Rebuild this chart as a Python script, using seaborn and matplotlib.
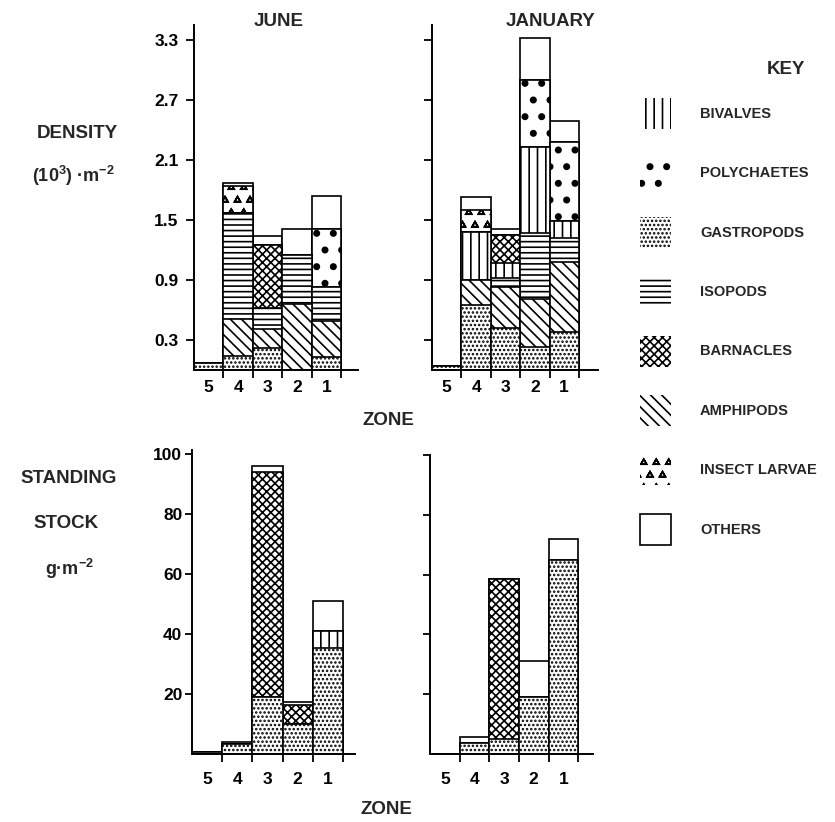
import warnings
import pandas as pd
import matplotlib
matplotlib.use('Agg')
import matplotlib.pyplot as plt
from matplotlib import hatch as mhatch
from matplotlib.path import Path
from matplotlib.patches import Patch
import seaborn as sns

warnings.filterwarnings('ignore')

# =============================================================================
# Data, zones ordered 5..1 as on the x axis
# =============================================================================
zones = ['5', '4', '3', '2', '1']
stack_order = ['GASTROPODS', 'AMPHIPODS', 'ISOPODS', 'BIVALVES', 'BARNACLES',
               'POLYCHAETES', 'INSECT LARVAE', 'OTHERS']
key_order = ['BIVALVES', 'POLYCHAETES', 'GASTROPODS', 'ISOPODS', 'BARNACLES',
             'AMPHIPODS', 'INSECT LARVAE', 'OTHERS']

# density, 10^3 m-2, June
jun_dens_gastropods = [0.07, 0.14, 0.22, 0.00, 0.13]
jun_dens_amphipods = [0.00, 0.37, 0.19, 0.66, 0.36]
jun_dens_isopods = [0.00, 1.06, 0.21, 0.49, 0.34]
jun_dens_barnacles = [0.00, 0.00, 0.63, 0.00, 0.00]
jun_dens_polychaetes = [0.00, 0.00, 0.00, 0.00, 0.58]
jun_dens_insects = [0.00, 0.27, 0.00, 0.00, 0.00]
jun_dens_others = [0.00, 0.03, 0.09, 0.26, 0.33]

# density, 10^3 m-2, January
jan_dens_gastropods = [0.04, 0.65, 0.42, 0.23, 0.38]
jan_dens_amphipods = [0.00, 0.25, 0.41, 0.48, 0.70]
jan_dens_isopods = [0.00, 0.00, 0.09, 0.66, 0.24]
jan_dens_bivalves = [0.00, 0.48, 0.15, 0.86, 0.17]
jan_dens_barnacles = [0.00, 0.00, 0.28, 0.00, 0.00]
jan_dens_polychaetes = [0.00, 0.00, 0.00, 0.67, 0.79]
jan_dens_insects = [0.00, 0.22, 0.00, 0.00, 0.00]
jan_dens_others = [0.00, 0.13, 0.06, 0.42, 0.21]

# standing stock, g m-2, June
jun_stock_gastropods = [0.7, 3.3, 19.0, 10.0, 35.3]
jun_stock_bivalves = [0.0, 0.0, 0.0, 0.0, 5.7]
jun_stock_barnacles = [0.0, 0.0, 75.0, 6.3, 0.0]
jun_stock_others = [0.0, 0.7, 2.0, 1.0, 10.0]

# standing stock, g m-2, January
jan_stock_gastropods = [0.0, 3.7, 5.0, 19.0, 65.0]
jan_stock_barnacles = [0.0, 0.0, 53.6, 0.0, 0.0]
jan_stock_others = [0.0, 2.0, 0.0, 12.0, 7.0]

dens_ticks = [0.3, 0.9, 1.5, 2.1, 2.7, 3.3]
stock_ticks = [20, 40, 60, 80, 100]


# =============================================================================
# Extra hatch patterns: big dots (polychaetes) and triangles (insect larvae)
# =============================================================================
class BigDots(mhatch.Shapes):
    size = 0.16
    filled = True

    def __init__(self, hatch, density):
        self.num_rows = hatch.count(':') * density
        path = Path.unit_circle()
        self.shape_vertices = path.vertices
        self.shape_codes = path.codes
        super().__init__(hatch, density)


class Triangles(mhatch.Shapes):
    size = 0.28
    filled = False

    def __init__(self, hatch, density):
        self.num_rows = int(hatch.count('^') * density * 1.4)
        path = Path.unit_regular_polygon(3)
        self.shape_vertices = path.vertices
        self.shape_codes = path.codes
        super().__init__(hatch, density)


mhatch._hatch_types.extend([BigDots, Triangles])

hatches = {'GASTROPODS': '....', 'AMPHIPODS': '\\\\\\', 'ISOPODS': '---',
           'BIVALVES': '||', 'BARNACLES': 'xxxx', 'POLYCHAETES': ':',
           'INSECT LARVAE': '^', 'OTHERS': ''}

sns.set_theme(style='ticks')
plt.rcParams['font.family'] = ['Liberation Sans', 'DejaVu Sans']
plt.rcParams['font.weight'] = 'bold'
plt.rcParams['mathtext.default'] = 'regular'
plt.rcParams['hatch.linewidth'] = 1.2
plt.rcParams['hatch.color'] = 'black'
plt.rcParams['axes.linewidth'] = 1.4
plt.rcParams['axes.edgecolor'] = 'black'
plt.rcParams['xtick.color'] = 'black'
plt.rcParams['ytick.color'] = 'black'

W, H = 835, 822
fig = plt.figure(figsize=(W / 100, H / 100), dpi=100)


def px_axes(x0, y_top, x1, y_bot):
    return fig.add_axes([x0 / W, 1 - y_bot / H, (x1 - x0) / W,
                         (y_bot - y_top) / H])


def stacked(ax, layers):
    df = pd.DataFrame(layers, index=zones)
    cum = df.reindex(columns=stack_order, fill_value=0).cumsum(axis=1)
    # draw cumulative totals from the top layer down, each one covering
    # the part of the previous bar that belongs to the layers below
    for g in reversed(stack_order):
        if g not in df.columns:
            continue
        sns.barplot(x=zones, y=cum[g].values, order=zones, width=1,
                    color='white', saturation=1, edgecolor='black',
                    linewidth=1.2, hatch=hatches[g], errorbar=None, ax=ax)


def style(ax, xmax, ymax, ticks, show_labels, fmt, ylen, ypad, xpad):
    ax.set_xlim(-0.5, xmax)
    ax.set_ylim(0, ymax)
    ax.set_xlabel('')
    ax.set_ylabel('')
    ax.set_xticks([i + 0.5 for i in range(len(zones))])
    ax.set_xticklabels([])
    ax.set_xticks(range(len(zones)), minor=True)
    ax.set_xticklabels(zones, minor=True, fontsize=12.5, fontweight='bold')
    ax.tick_params(axis='x', which='major', direction='out', length=6,
                   width=1.3)
    ax.tick_params(axis='x', which='minor', length=0, pad=xpad)
    ax.set_yticks(ticks)
    if show_labels:
        ax.set_yticklabels([fmt.format(t) for t in ticks], fontsize=12.5,
                           fontweight='bold')
    else:
        ax.set_yticklabels([])
    ax.tick_params(axis='y', direction='out', length=ylen, width=1.3,
                   pad=ypad)
    sns.despine(ax=ax)


ax_jun_d = px_axes(194, 25, 358, 370)
stacked(ax_jun_d, {'GASTROPODS': jun_dens_gastropods,
                   'AMPHIPODS': jun_dens_amphipods,
                   'ISOPODS': jun_dens_isopods,
                   'BARNACLES': jun_dens_barnacles,
                   'POLYCHAETES': jun_dens_polychaetes,
                   'INSECT LARVAE': jun_dens_insects,
                   'OTHERS': jun_dens_others})
style(ax_jun_d, 5.08, 3.45, dens_ticks, True, '{:.1f}', 6, 5, 7)

ax_jan_d = px_axes(432, 25, 598, 370)
stacked(ax_jan_d, {'GASTROPODS': jan_dens_gastropods,
                   'AMPHIPODS': jan_dens_amphipods,
                   'ISOPODS': jan_dens_isopods,
                   'BIVALVES': jan_dens_bivalves,
                   'BARNACLES': jan_dens_barnacles,
                   'POLYCHAETES': jan_dens_polychaetes,
                   'INSECT LARVAE': jan_dens_insects,
                   'OTHERS': jan_dens_others})
style(ax_jan_d, 5.15, 3.45, dens_ticks, False, '', 6, 5, 7)

ax_jun_s = px_axes(192, 450, 355, 754)
stacked(ax_jun_s, {'GASTROPODS': jun_stock_gastropods,
                   'BIVALVES': jun_stock_bivalves,
                   'BARNACLES': jun_stock_barnacles,
                   'OTHERS': jun_stock_others})
style(ax_jun_s, 4.9, 101.3, stock_ticks, True, '{:d}', 5, 2, 13)

ax_jan_s = px_axes(430, 455, 593, 754)
stacked(ax_jan_s, {'GASTROPODS': jan_stock_gastropods,
                   'BARNACLES': jan_stock_barnacles,
                   'OTHERS': jan_stock_others})
style(ax_jan_s, 5.0, 99.7, stock_ticks, False, '', 5, 2, 13)


def ftext(x, y, s, size=12.5, ha='center'):
    fig.text(x / W, 1 - y / H, s, ha=ha, va='center', fontsize=size,
             fontweight='bold')


ftext(279, 21, 'JUNE', 13.5)
ftext(551, 22, 'JANUARY', 13.5)
ftext(786, 70, 'KEY', 13.5)
ftext(77, 133, 'DENSITY', 13.5)
ftext(73, 176, '(10$^3$) ·m$^{-2}$', 13)
ftext(69, 478, 'STANDING', 13.5)
ftext(66, 524, 'STOCK', 13.5)
ftext(70, 569, 'g·m$^{-2}$', 13)
ftext(388, 420, 'ZONE', 13.5)
ftext(386, 809, 'ZONE', 13.5)

handles = [Patch(facecolor='white', edgecolor='black', hatch=hatches[g],
                 linewidth=1.2 if g == 'OTHERS' else 0, label=g)
           for g in key_order]
fs = 10.5
fpx = fs * 1.389
fig.legend(handles=handles, loc='upper left',
           bbox_to_anchor=(640 / W, 1 - 98 / H), frameon=False,
           borderpad=0, borderaxespad=0,
           prop={'weight': 'bold', 'size': fs},
           handlelength=31 / fpx, handleheight=2.894,
           handletextpad=29 / fpx, labelspacing=28.4 / fpx)

fig.savefig('out.png', dpi=100)
